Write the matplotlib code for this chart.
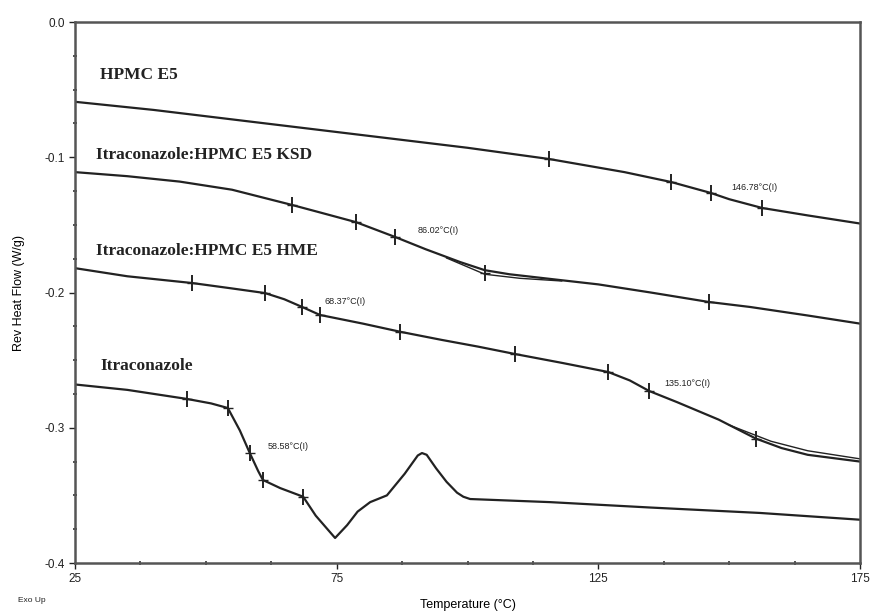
import matplotlib
matplotlib.use("Agg")
import matplotlib.pyplot as plt
from matplotlib.ticker import MultipleLocator, FixedLocator

# ---- data ----
hpmc_T = [25, 40, 55, 70, 85, 100, 115.6, 130, 138.9, 146.5, 150, 156.3, 165, 175]
hpmc_Q = [-0.059, -0.065, -0.072, -0.079, -0.086, -0.093, -0.1013, -0.111, -0.1183,
          -0.1264, -0.131, -0.1375, -0.143, -0.149]
hpmc_mT = [115.6, 138.9, 146.5, 156.3]
hpmc_mQ = [-0.1013, -0.1183, -0.1264, -0.1375]

ksd_T = [25, 35, 45, 55, 66.5, 72, 78.7, 86.2, 92, 98.6, 103.3, 108, 117.7, 125, 135,
         146.1, 154, 165, 175]
ksd_Q = [-0.111, -0.114, -0.118, -0.124, -0.1353, -0.141, -0.148, -0.159, -0.168,
         -0.1775, -0.1835, -0.1865, -0.1908, -0.194, -0.200, -0.207, -0.2107, -0.217,
         -0.223]
ksd_fitT = [96, 103.3, 110, 118]
ksd_fitQ = [-0.1745, -0.1865, -0.1895, -0.1915]
ksd_mT = [66.5, 78.7, 86.2, 103.3, 146.1]
ksd_mQ = [-0.1353, -0.148, -0.159, -0.1855, -0.207]

hme_T = [25, 35, 47.4, 55, 61.3, 65, 68.4, 71.8, 80, 87.1, 95, 102, 109.1, 118, 126.9,
         131, 134.7, 140, 148, 155.1, 160, 165, 175]
hme_Q = [-0.182, -0.188, -0.193, -0.197, -0.2004, -0.205, -0.2107, -0.2166, -0.223,
         -0.229, -0.235, -0.240, -0.2455, -0.252, -0.2588, -0.265, -0.2728, -0.281,
         -0.294, -0.308, -0.315, -0.320, -0.325]
hme_fitT = [150, 158, 165, 175]
hme_fitQ = [-0.298, -0.310, -0.317, -0.323]
hme_mT = [47.4, 61.3, 68.4, 71.8, 87.1, 109.1, 126.9, 134.7, 155.1]
hme_mQ = [-0.193, -0.2004, -0.2107, -0.2166, -0.229, -0.2455, -0.2588, -0.2728, -0.308]

itra_T = [25, 35, 46.4, 51, 54.2, 56.5, 58.4, 60, 60.9, 64.2, 68.6, 71, 74.7, 77, 79,
          81.4, 84.6, 88, 90.5, 91.3, 92.2, 94, 96, 98, 99.2, 100.5, 115.8, 135, 155.9,
          175]
itra_Q = [-0.268, -0.272, -0.2787, -0.282, -0.2854, -0.302, -0.3187, -0.332, -0.3386,
          -0.3446, -0.351, -0.365, -0.3815, -0.372, -0.362, -0.355, -0.350, -0.334,
          -0.3205, -0.3187, -0.320, -0.330, -0.340, -0.348, -0.351, -0.3527, -0.355,
          -0.359, -0.363, -0.368]
itra_mT = [46.4, 54.2, 58.4, 60.9, 68.6]
itra_mQ = [-0.2787, -0.2854, -0.3187, -0.3386, -0.351]

curve_labels = ["HPMC E5", "Itraconazole:HPMC E5 KSD", "Itraconazole:HPMC E5 HME",
                "Itraconazole"]
label_T = [29.8, 29.0, 29.0, 29.8]
label_Q = [-0.039, -0.098, -0.169, -0.254]

tg_labels = ["146.78°C(I)", "86.02°C(I)", "68.37°C(I)", "135.10°C(I)", "58.58°C(I)"]
tg_T = [150.5, 90.4, 72.6, 137.7, 61.9]
tg_Q = [-0.1227, -0.154, -0.207, -0.267, -0.314]

x_ticks = [25, 75, 125, 175]
y_ticks = [0.0, -0.1, -0.2, -0.3, -0.4]
y_ticklabels = ["0.0", "-0.1", "-0.2", "-0.3", "-0.4"]

# ---- figure ----
fig = plt.figure(figsize=(8.74, 6.12), dpi=100)
ax = fig.add_axes([75 / 874, 49 / 612, 785 / 874, 541 / 612])

lc = "#222222"
for T, Q in [(hpmc_T, hpmc_Q), (ksd_T, ksd_Q), (hme_T, hme_Q), (itra_T, itra_Q)]:
    ax.plot(T, Q, color=lc, lw=1.6, solid_joinstyle="round", solid_capstyle="round")
for T, Q in [(ksd_fitT, ksd_fitQ), (hme_fitT, hme_fitQ)]:
    ax.plot(T, Q, color=lc, lw=1.0)
for T, Q in [(hpmc_mT, hpmc_mQ), (ksd_mT, ksd_mQ), (hme_mT, hme_mQ), (itra_mT, itra_mQ)]:
    ax.plot(T, Q, ls="none", marker="|", ms=12, mew=1.4, color=lc)
    ax.plot(T, Q, ls="none", marker="_", ms=7, mew=1.0, color=lc)

for s, t, q in zip(curve_labels, label_T, label_Q):
    ax.text(t, q, s, family="Liberation Serif", fontweight="bold", fontsize=12.5,
            color="#222222", va="center", ha="left")
for s, t, q in zip(tg_labels, tg_T, tg_Q):
    ax.text(t, q, s, fontsize=6.5, color="#222222", va="center", ha="left",
            family="Liberation Sans")

ax.set_xlim(25, 175)
ax.set_ylim(-0.4, 0.0)
ax.xaxis.set_major_locator(FixedLocator(x_ticks))
ax.xaxis.set_minor_locator(MultipleLocator(12.5))
ax.yaxis.set_major_locator(FixedLocator(y_ticks))
ax.set_yticklabels(y_ticklabels)
ax.yaxis.set_minor_locator(MultipleLocator(0.025))
ax.tick_params(which="major", direction="out", length=4, width=1, labelsize=8.5,
               colors="#222222")
ax.tick_params(which="minor", direction="inout", length=3, width=1.2, colors="#333333")
for lab in ax.get_xticklabels() + ax.get_yticklabels():
    lab.set_family("Liberation Sans")
for sp in ax.spines.values():
    sp.set_linewidth(1.8)
    sp.set_color("#555555")

ax.set_xlabel("Temperature (°C)", fontsize=9, family="Liberation Sans", labelpad=10)
ax.set_ylabel("Rev Heat Flow (W/g)", fontsize=9, family="Liberation Sans", labelpad=14)
fig.text(18 / 874, 1 - 600 / 612, "Exo Up", fontsize=6, family="Liberation Sans",
         va="center", ha="left", color="#222222")

fig.savefig("out.png", dpi=100)
